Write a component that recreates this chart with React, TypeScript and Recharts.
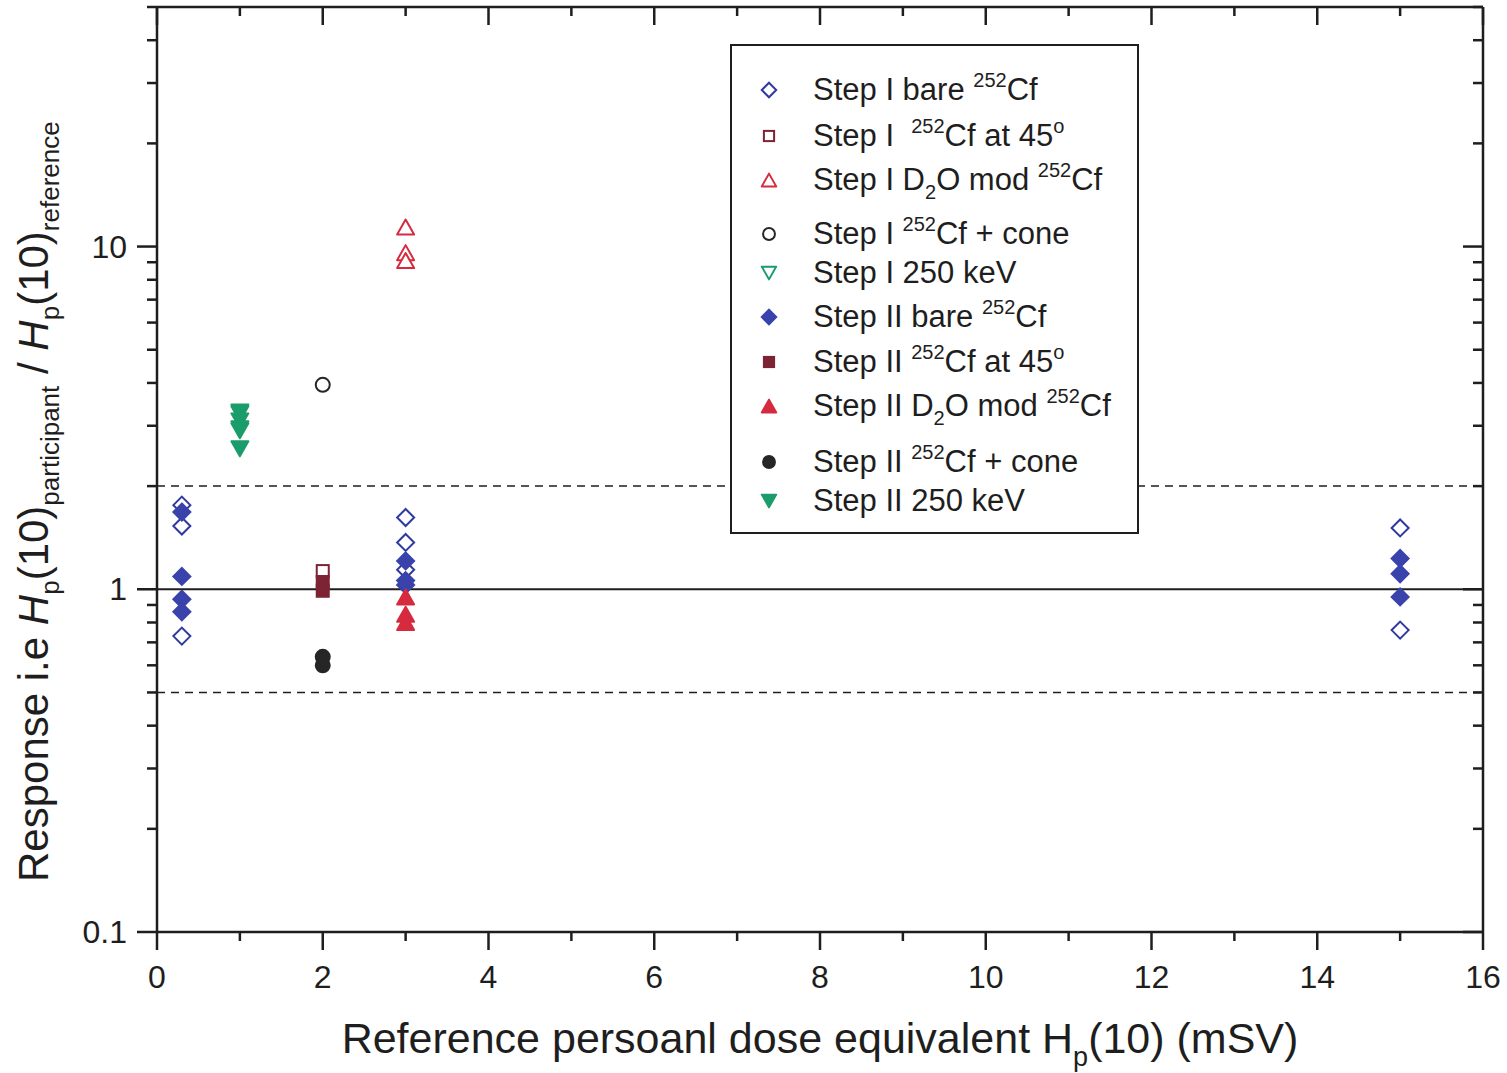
import React from 'react';
import { ScatterChart, Scatter, XAxis, YAxis, ReferenceLine, Label } from 'recharts';

const FONT = '"Liberation Sans", Arial, sans-serif';
const INK = '#1e1e1e';

const xTicks = [0, 1, 2, 3, 4, 5, 6, 7, 8, 9, 10, 11, 12, 13, 14, 15, 16];
const yTicks = [
  0.1, 0.2, 0.3, 0.4, 0.5, 0.6, 0.7, 0.8, 0.9,
  1, 2, 3, 4, 5, 6, 7, 8, 9,
  10, 20, 30, 40, 50,
];
const yMajor = [0.1, 1, 10];

// [reference Hp(10) in mSv, response]
const stepIBare = [[0.3, 1.76], [0.3, 1.53], [0.3, 0.73], [3, 1.62], [3, 1.37], [3, 1.14], [15, 1.51], [15, 0.76]];
const stepI45 = [[2, 1.13]];
const stepID2O = [[3, 11.4], [3, 9.6], [3, 9.1]];
const stepICone = [[2, 3.95]];
const stepI250 = [[1, 3.25], [1, 2.9]];
const stepIIBare = [[0.3, 1.68], [0.3, 1.09], [0.3, 0.935], [0.3, 0.86], [3, 1.21], [3, 1.06], [3, 1.03], [15, 1.23], [15, 1.11], [15, 0.95]];
const stepII45 = [[2, 1.05], [2, 0.99]];
const stepIID2O = [[3, 0.95], [3, 0.845], [3, 0.8]];
const stepIICone = [[2, 0.635], [2, 0.6]];
const stepII250 = [[1, 3.29], [1, 3.1], [1, 2.94], [1, 2.57]];

const toPoints = (rows: number[][]) => rows.map(([x, y]) => ({ x, y }));

type Kind = 'diamond' | 'square' | 'up' | 'down' | 'circle';

function Marker({ cx, cy, kind, color, filled, s = 1 }: { cx: number; cy: number; kind: Kind; color: string; filled: boolean; s?: number }) {
  const fill = filled ? color : '#fff';
  const sw = 2;
  if (kind === 'diamond') {
    const h = 8.5 * s;
    return <polygon points={`${cx},${cy - h} ${cx + h},${cy} ${cx},${cy + h} ${cx - h},${cy}`} fill={fill} stroke={color} strokeWidth={sw} />;
  }
  if (kind === 'square') {
    const h = 6 * s;
    return <rect x={cx - h} y={cy - h} width={2 * h} height={2 * h} fill={fill} stroke={color} strokeWidth={sw} />;
  }
  if (kind === 'up') {
    const w = 8.5 * s;
    const h = 7.5 * s;
    return <polygon points={`${cx},${cy - h} ${cx + w},${cy + h} ${cx - w},${cy + h}`} fill={fill} stroke={color} strokeWidth={sw} strokeLinejoin="round" />;
  }
  if (kind === 'down') {
    const w = 8.5 * s;
    const h = 7.5 * s;
    return <polygon points={`${cx - w},${cy - h} ${cx + w},${cy - h} ${cx},${cy + h}`} fill={fill} stroke={color} strokeWidth={sw} strokeLinejoin="round" />;
  }
  return <circle cx={cx} cy={cy} r={7 * s} fill={fill} stroke={color} strokeWidth={sw} />;
}

const Sup = ({ children }: { children: React.ReactNode }) => (
  <span style={{ fontSize: 20, position: 'relative', top: -13 }}>{children}</span>
);
const Sub = ({ children }: { children: React.ReactNode }) => (
  <span style={{ fontSize: 20, position: 'relative', top: 9 }}>{children}</span>
);

const BLUE = '#2f3a9f';
const MAROON = '#7c2334';
const RED = '#d62a3e';
const DARK = '#262626';
const GREEN = '#1b9c6b';

const series = [
  { key: 'sIb', rows: stepIBare, kind: 'diamond' as Kind, color: BLUE, filled: false, label: <>Step I bare <Sup>252</Sup>Cf</> },
  { key: 'sI45', rows: stepI45, kind: 'square' as Kind, color: MAROON, filled: false, label: <>Step I{'\u00a0\u00a0'}<Sup>252</Sup>Cf at 45<Sup>o</Sup></> },
  { key: 'sId', rows: stepID2O, kind: 'up' as Kind, color: RED, filled: false, label: <>Step I D<Sub>2</Sub>O mod <Sup>252</Sup>Cf</> },
  { key: 'sIc', rows: stepICone, kind: 'circle' as Kind, color: DARK, filled: false, label: <>Step I <Sup>252</Sup>Cf + cone</> },
  { key: 'sI250', rows: stepI250, kind: 'down' as Kind, color: GREEN, filled: false, label: <>Step I 250 keV</> },
  { key: 'sIIb', rows: stepIIBare, kind: 'diamond' as Kind, color: '#3943ab', filled: true, label: <>Step II bare <Sup>252</Sup>Cf</> },
  { key: 'sII45', rows: stepII45, kind: 'square' as Kind, color: MAROON, filled: true, label: <>Step II <Sup>252</Sup>Cf at 45<Sup>o</Sup></> },
  { key: 'sIId', rows: stepIID2O, kind: 'up' as Kind, color: RED, filled: true, label: <>Step II D<Sub>2</Sub>O mod <Sup>252</Sup>Cf</> },
  { key: 'sIIc', rows: stepIICone, kind: 'circle' as Kind, color: DARK, filled: true, label: <>Step II <Sup>252</Sup>Cf + cone</> },
  { key: 'sII250', rows: stepII250, kind: 'down' as Kind, color: GREEN, filled: true, label: <>Step II 250 keV</> },
];

// legend row centres, measured from the top of the box
const legendRows = [46, 92, 136, 190, 229, 273, 318, 362, 418, 457];

const BottomTick = ({ x, y, payload }: any) => {
  const major = payload.value % 2 === 0;
  return (
    <g>
      <line x1={x} x2={x} y1={y} y2={y + (major ? 18 : 9)} stroke={INK} strokeWidth={2.5} />
      {major && (
        <text x={x} y={y + 56} textAnchor="middle" fontSize={32} fontFamily={FONT} fill={INK}>
          {payload.value}
        </text>
      )}
    </g>
  );
};

const TopTick = ({ x, y, payload }: any) => {
  const major = payload.value % 2 === 0;
  return <line x1={x} x2={x} y1={y} y2={y + (major ? 18 : 9)} stroke={INK} strokeWidth={2.5} />;
};

const isMajorY = (v: number) => yMajor.some((m) => Math.abs(m - v) < 1e-9);

const LeftTick = ({ x, y, payload }: any) => {
  const major = isMajorY(payload.value);
  return (
    <g>
      <line x1={x - (major ? 20 : 10)} x2={x} y1={y} y2={y} stroke={INK} strokeWidth={2.5} />
      {major && (
        <text x={x - 30} y={y} textAnchor="end" dominantBaseline="central" fontSize={32} fontFamily={FONT} fill={INK}>
          {payload.value}
        </text>
      )}
    </g>
  );
};

const RightTick = ({ x, y, payload }: any) => {
  const major = isMajorY(payload.value);
  return <line x1={x - (major ? 20 : 10)} x2={x} y1={y} y2={y} stroke={INK} strokeWidth={2.5} />;
};

const XTitle = ({ viewBox }: any) => {
  const { x, y, width } = viewBox;
  return (
    <text x={x + width / 2} y={y + 121} textAnchor="middle" fontSize={43} fontFamily={FONT} fill={INK}>
      <tspan>{'Reference persoanl dose equivalent H'}</tspan>
      <tspan fontSize={27} dy={13}>p</tspan>
      <tspan dy={-13}>{'(10) (mSV)'}</tspan>
    </text>
  );
};

const YTitle = ({ viewBox }: any) => {
  const bx = viewBox.x + 48;
  const by = viewBox.y + viewBox.height - 50;
  return (
    <text x={bx} y={by} transform={`rotate(-90 ${bx} ${by})`} fontSize={42} fontFamily={FONT} fill={INK}>
      <tspan>{'Response i.e '}</tspan>
      <tspan fontStyle="italic">H</tspan>
      <tspan fontSize={26} dy={11}>p</tspan>
      <tspan dy={-11}>(10)</tspan>
      <tspan fontSize={26} dy={11}>participant</tspan>
      <tspan dy={-11}>{' / '}</tspan>
      <tspan fontStyle="italic">H</tspan>
      <tspan fontSize={26} dy={11}>p</tspan>
      <tspan dy={-11}>(10)</tspan>
      <tspan fontSize={26} dy={11}>reference</tspan>
    </text>
  );
};

function LegendBox() {
  return (
    <div
      style={{
        position: 'absolute',
        left: 730,
        top: 44,
        width: 409,
        height: 490,
        border: `2px solid ${INK}`,
        boxSizing: 'border-box',
        background: '#fff',
        fontFamily: FONT,
        fontSize: 31,
        color: INK,
      }}
    >
      {series.map((s, i) => (
        <div
          key={s.key}
          style={{ position: 'absolute', left: 0, top: legendRows[i] - 24, height: 44, display: 'flex', alignItems: 'center', whiteSpace: 'nowrap' }}
        >
          <svg width={81} height={44} style={{ display: 'block' }}>
            <Marker cx={37} cy={22} kind={s.kind} color={s.color} filled={s.filled} s={0.85} />
          </svg>
          <span>{s.label}</span>
        </div>
      ))}
    </div>
  );
}

const frameLine = { stroke: INK, strokeWidth: 2.5 };

export default function App() {
  return (
    <div style={{ position: 'absolute', left: 0, top: 0, width: 1507, height: 1073, background: '#fff' }}>
      <ScatterChart width={1507} height={1073} margin={{ top: 6, right: 23, bottom: 0, left: 0 }}>
        <XAxis
          dataKey="x"
          type="number"
          domain={[0, 16]}
          ticks={xTicks}
          interval={0}
          allowDataOverflow
          height={141}
          tickSize={0}
          tickMargin={0}
          tickLine={false}
          tick={<BottomTick />}
          axisLine={frameLine}
        >
          <Label content={<XTitle />} />
        </XAxis>
        <XAxis
          xAxisId="top"
          dataKey="x"
          orientation="top"
          type="number"
          domain={[0, 16]}
          ticks={xTicks}
          interval={0}
          allowDataOverflow
          height={1}
          tickSize={0}
          tickMargin={0}
          tickLine={false}
          tick={<TopTick />}
          axisLine={frameLine}
        />
        <YAxis
          dataKey="y"
          type="number"
          scale="log"
          domain={[0.1, 50]}
          ticks={yTicks}
          interval={0}
          allowDataOverflow
          width={157}
          tickSize={0}
          tickMargin={0}
          tickLine={false}
          tick={<LeftTick />}
          axisLine={frameLine}
        >
          <Label content={<YTitle />} />
        </YAxis>
        <YAxis
          yAxisId="right"
          dataKey="y"
          orientation="right"
          type="number"
          scale="log"
          domain={[0.1, 50]}
          ticks={yTicks}
          interval={0}
          allowDataOverflow
          width={1}
          tickSize={0}
          tickMargin={0}
          tickLine={false}
          tick={<RightTick />}
          axisLine={frameLine}
        />
        <ReferenceLine y={2} stroke={INK} strokeWidth={1.5} strokeDasharray="8 6" />
        <ReferenceLine y={0.5} stroke={INK} strokeWidth={1.5} strokeDasharray="8 6" />
        <ReferenceLine y={1} stroke={INK} strokeWidth={2} />
        {series.map((s) => (
          <Scatter
            key={s.key}
            data={toPoints(s.rows)}
            isAnimationActive={false}
            shape={(p: any) => <Marker cx={p.cx} cy={p.cy} kind={s.kind} color={s.color} filled={s.filled} />}
          />
        ))}
      </ScatterChart>
      <LegendBox />
    </div>
  );
}
